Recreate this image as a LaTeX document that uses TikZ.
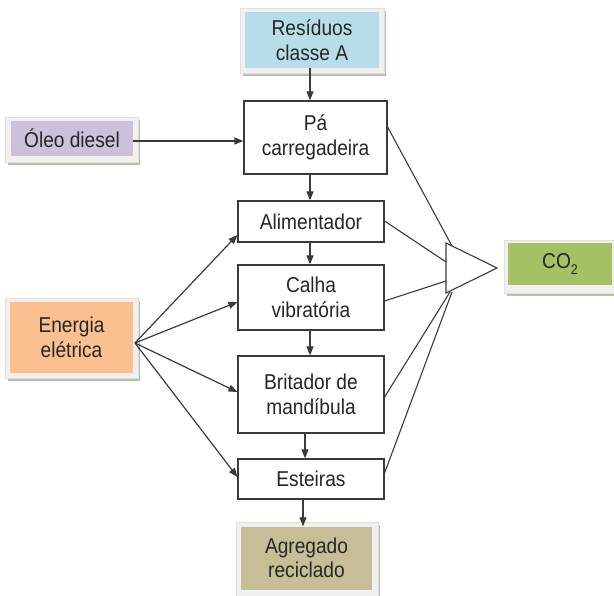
\documentclass[tikz,border=0pt]{standalone}
\usepackage{fontspec}
\setmainfont{Liberation Sans}[FakeStretch=0.89]
\usetikzlibrary{arrows.meta,calc}
\definecolor{txt}{HTML}{262626}
\definecolor{ln}{HTML}{3A3A3A}
\definecolor{cblue}{HTML}{B7DEE8}
\definecolor{cpurple}{HTML}{CCC0DA}
\definecolor{corange}{HTML}{FAC090}
\definecolor{cgreen}{HTML}{A4C263}
\definecolor{ctan}{HTML}{C7BE98}
\definecolor{frame}{HTML}{F0F0F0}
\definecolor{shadow}{HTML}{B9BFA8}
\tikzset{
  every node/.style={font=\fontsize{21.5}{24.5}\selectfont, text=txt, align=center, inner sep=0pt},
  procbox/.style={draw=ln, line width=1.2pt, fill=white},
  srcbox/.style={draw=none},
  flow/.style={draw=ln, line width=1.2pt, -{Triangle[length=9pt,width=7pt]}},
  link/.style={draw=ln, line width=1.1pt},
  outerframe/.style={fill=frame, draw=black!12, line width=0.6pt},
  shad/.style={fill=shadow, draw=none}
}
\newcommand{\framedbox}[4]{% x1 y1 x2 y2 outer
  \fill[shad] (#1+3,#4-1) rectangle (#3+2,#4+3);
  \fill[shad] (#3-1,#2+3) rectangle (#3+2,#4+3);
  \path[outerframe] (#1,#2) rectangle (#3,#4);
}
\begin{document}
\begin{tikzpicture}[x=1pt,y=-1pt]
\useasboundingbox (0,0) rectangle (614,596);

% framed source boxes
\framedbox{240}{8}{384}{73}
\node[srcbox, fill=cblue, minimum width=134pt, minimum height=56pt] (res) at (312,40) {Resíduos\\classe A};

\framedbox{5}{117}{138}{162}
\node[srcbox, fill=cpurple, minimum width=122pt, minimum height=35pt] (oleo) at (72,138.5) {Óleo diesel};

\framedbox{5}{298}{138}{378}
\node[srcbox, fill=corange, minimum width=123pt, minimum height=71pt] (ener) at (71.5,337.5) {Energia\\elétrica};

\framedbox{504}{240}{616}{293}
\node[srcbox, fill=cgreen, minimum width=104pt, minimum height=42pt] (co2) at (560,264) {CO\raisebox{-6pt}{\fontsize{14}{14}\selectfont 2}};

\framedbox{236}{522}{378}{598}
\node[srcbox, fill=ctan, minimum width=131pt, minimum height=63pt] (agr) at (306.5,558) {Agregado\\reciclado};

% process boxes
\node[procbox, minimum width=143pt, minimum height=73pt] (pa) at (315.5,137.5) {Pá\\carregadeira};
\node[procbox, minimum width=146pt, minimum height=41pt] (ali) at (311,221.5) {Alimentador};
\node[procbox, minimum width=146pt, minimum height=65pt] (cal) at (311,297.5) {Calha\\vibratória};
\node[procbox, minimum width=146pt, minimum height=77pt] (bri) at (311,394.5) {Britador de\\mandíbula};
\node[procbox, minimum width=146pt, minimum height=40pt] (est) at (311,479) {Esteiras};

% triangle (emission collector)
\coordinate (t1) at (446,243);
\coordinate (t2) at (446,293);
\coordinate (t3) at (497,268);
\draw[link, fill=white, line join=miter] (t1) -- (t3) -- (t2) -- cycle;

% vertical flow
\coordinate (cx1) at (310,0);
\coordinate (cx2) at (305,0);
\coordinate (cx3) at (303,0);
\draw[flow] (cx1 |- res.south) -- (cx1 |- pa.north);
\draw[flow] (cx1 |- pa.south) -- (cx1 |- ali.north);
\draw[flow] (cx1 |- ali.south) -- (cx1 |- cal.north);
\draw[flow] (cx1 |- cal.south) -- (cx1 |- bri.north);
\draw[flow] (cx2 |- bri.south) -- (cx2 |- est.north);
\draw[flow] (cx3 |- est.south) -- (cx3 |- agr.north);

% diesel
\draw[flow] (oleo.east |- 0,141) -- (pa.west |- 0,141);

% energy
\coordinate (esrc) at (135,343);
\draw[flow] (esrc) -- (ali.west |- 0,235);
\draw[flow] (esrc) -- (cal.west |- 0,302);
\draw[flow] (esrc) -- (bri.west |- 0,392);
\draw[flow] (esrc) -- (est.west |- 0,477);

% emissions to triangle
\coordinate (e1) at (452,246);
\coordinate (e2) at (446,262);
\coordinate (e3) at (446,281);
\coordinate (e4) at (450,292);
\coordinate (e5) at (452,292);
\draw[link] (pa.east |- 0,127) -- (e1);
\draw[link] (ali.east |- 0,221) -- (e2);
\draw[link] (cal.east |- 0,301) -- (e3);
\draw[link] (bri.east |- 0,397) -- (e4);
\draw[link] (est.east |- 0,473) -- (e5);
\end{tikzpicture}
\end{document}
